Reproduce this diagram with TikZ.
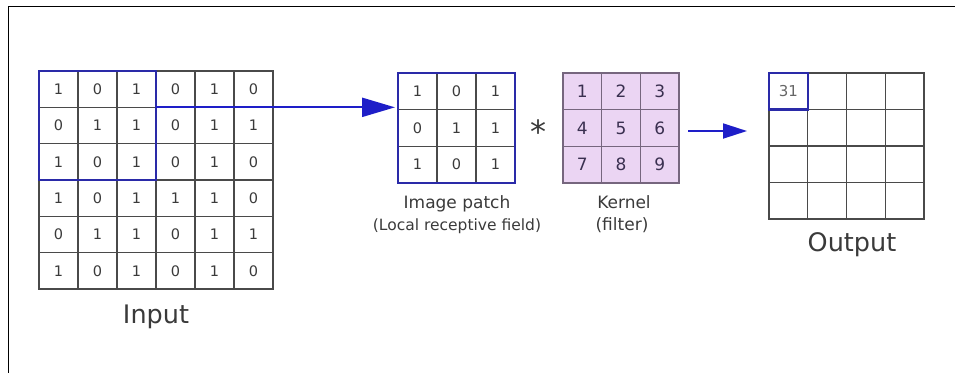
\documentclass[tikz,border=0pt]{standalone}
\usepackage{fontspec}
\setmainfont{DejaVu Sans}
\usetikzlibrary{arrows.meta,fit}
\definecolor{gridgray}{HTML}{4A4A4A}
\definecolor{boxblue}{HTML}{2A2AA8}
\definecolor{arrowblue}{HTML}{1E1EC8}
\definecolor{kfill}{HTML}{EBD5F3}
\definecolor{kline}{HTML}{76667E}
\definecolor{txt}{HTML}{3A3A3A}
\definecolor{ktxt}{HTML}{3A3050}
\begin{document}
\begin{tikzpicture}[x=1pt,y=-1pt,
  cellbase/.style={draw=gridgray, line width=1.3pt, inner sep=0pt, outer sep=0pt, text=txt,
    font=\fontsize{14.5pt}{16pt}\selectfont},
  incell/.style={cellbase, minimum width=39pt, minimum height=36.33pt},
  pcell/.style={cellbase, minimum width=39pt, minimum height=36.67pt},
  kcell/.style={cellbase, draw=kline, fill=kfill, text=ktxt, minimum width=38.67pt, minimum height=36.67pt,
    font=\fontsize{17pt}{19pt}\selectfont},
  ocell/.style={cellbase, minimum width=38.75pt, minimum height=36.5pt},
  bluebox/.style={draw=boxblue, line width=2.8pt, inner sep=0pt, outer sep=0pt},
  caption/.style={anchor=base, text=txt, inner sep=0pt},
  bigcap/.style={caption, font=\fontsize{25.5pt}{28pt}\selectfont},
  smallcap/.style={caption, font=\fontsize{17pt}{19pt}\selectfont},
  bigarrow/.style={draw=arrowblue, line width=2.2pt, -{Triangle[length=33pt,width=19pt]}},
  smallarrow/.style={draw=arrowblue, line width=1.8pt, -{Triangle[length=24pt,width=15pt]}}
]
\useasboundingbox (0,0) rectangle (955,373);
% frame (top and left edges)
\draw[line width=1.6pt, black] (955,6.5) -- (8.5,6.5) -- (8.5,373);

% input grid
\foreach \row [count=\i] in {{1,0,1,0,1,0},{0,1,1,0,1,1},{1,0,1,0,1,0},{1,0,1,1,1,0},{0,1,1,0,1,1},{1,0,1,0,1,0}} {
  \foreach \v [count=\j] in \row {
    \node[incell] (in-\i-\j) at ({39+39*(\j-0.5)},{71+36.33*(\i-0.5)}) {\v};
  }
}
\node[bluebox, fit=(in-1-1)(in-3-3)] (inbox) {};
\node[bigcap] (inlabel) at (156,323) {Input};

% image patch
\foreach \row [count=\i] in {{1,0,1},{0,1,1},{1,0,1}} {
  \foreach \v [count=\j] in \row {
    \node[pcell] (p-\i-\j) at ({398+39*(\j-0.5)},{73+36.67*(\i-0.5)}) {\v};
  }
}
\node[bluebox, fit=(p-1-1)(p-3-3)] (patch) {};
\node[smallcap] (plabel1) at (457,208) {Image patch};
\node[smallcap, font=\fontsize{15.5pt}{17pt}\selectfont] (plabel2) at (457,230) {(Local receptive field)};

% asterisk
\node[anchor=base, inner sep=0pt, text=txt, font=\fontsize{32pt}{34pt}\selectfont] (star) at (538,143) {*};

% kernel
\foreach \row [count=\i] in {{1,2,3},{4,5,6},{7,8,9}} {
  \foreach \v [count=\j] in \row {
    \node[kcell] (k-\i-\j) at ({563+38.67*(\j-0.5)},{73+36.67*(\i-0.5)}) {\v};
  }
}
\node[fit=(k-1-1)(k-3-3), inner sep=0pt, outer sep=0pt] (kernel) {};
\node[smallcap] (klabel1) at (624,208) {Kernel};
\node[smallcap] (klabel2) at (622,230) {(filter)};

% output grid
\foreach \i in {1,...,4} {
  \foreach \j in {1,...,4} {
    \node[ocell] (o-\i-\j) at ({769+38.75*(\j-0.5)},{73+36.5*(\i-0.5)}) {};
  }
}
\node[ocell, draw=none, text=black!60, font=\fontsize{15pt}{17pt}\selectfont] at (o-1-1) {31};
\node[bluebox, line width=2.2pt, fit=(o-1-1)] (obox) {};
\node[fit=(o-1-1)(o-4-4), inner sep=0pt, outer sep=0pt] (outgrid) {};
\node[bigcap] (olabel) at (852,251) {Output};

% arrows
\draw[bigarrow, shorten >=3pt] (in-1-3.south east) -- (in-1-3.south east -| patch.west);
\draw[smallarrow, shorten <=9pt, shorten >=22pt] ([yshift=-3pt]kernel.east) -- ([yshift=-3pt]kernel.east -| outgrid.west);
\end{tikzpicture}
\end{document}
